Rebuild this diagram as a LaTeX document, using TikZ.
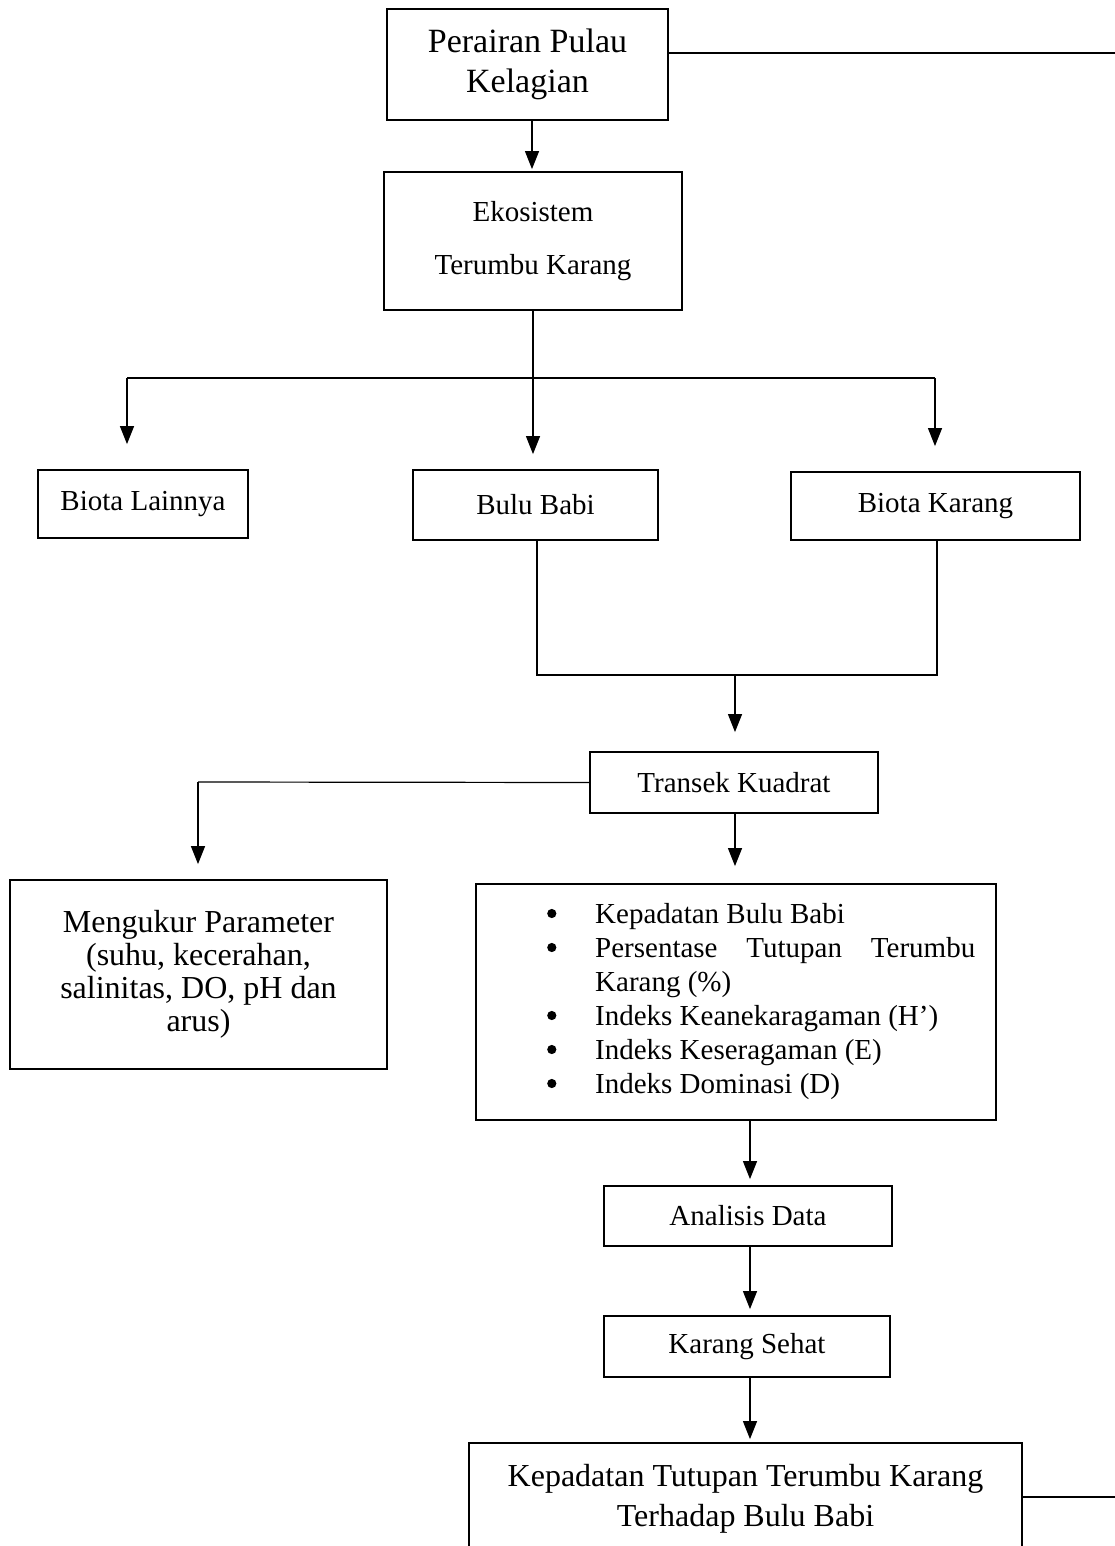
\documentclass[tikz,border=0pt]{standalone}
\usepackage{fontspec}
\setmainfont{Liberation Serif}
\usetikzlibrary{arrows.meta}
\newcommand{\mybul}{\tikz[baseline=-9.5pt,x=1pt,y=1pt]\fill (0,0) circle (4.6pt);}
\begin{document}
\begin{tikzpicture}[x=1pt,y=-1pt,
  box/.style={draw, line width=1.8pt, inner sep=0pt, align=center},
  con/.style={line width=1.2pt},
  arr/.style={con, -{Triangle[width=14pt,length=18pt]}},
  txt/.style={font=\fontsize{29}{33}\selectfont}
  ]
\clip (0,0) rectangle (1115,1546);
\fill[white] (0,0) rectangle (1115,1546);

% boxes
\node[box, minimum width=281pt, minimum height=111pt, font=\fontsize{34}{40}\selectfont] (A) at (527.5,64.5) {Perairan Pulau\\Kelagian};
\node[box, minimum width=298pt, minimum height=138pt, font=\fontsize{29}{53}\selectfont] (B) at (533,241) {Ekosistem\\Terumbu Karang};
\node[box, txt, minimum width=210pt, minimum height=68pt] (BL) at (143,504) {Biota Lainnya};
\node[box, txt, minimum width=245pt, minimum height=70pt] (BB) at (535.5,505) {Bulu Babi};
\node[box, txt, minimum width=289pt, minimum height=68pt] (BK) at (935.5,506) {Biota Karang};
\node[box, txt, minimum width=288pt, minimum height=61pt] (TK) at (734,782.5) {Transek Kuadrat};
\node[box, minimum width=377pt, minimum height=189pt, font=\fontsize{32}{33}\selectfont] (MP) at (198.5,974.5) {Mengukur Parameter\\(suhu, kecerahan,\\salinitas, DO, pH dan\\arus)};
\node[box, minimum width=520pt, minimum height=236pt] (IX) at (736,1002) {};
\node[anchor=north west, inner sep=0pt, font=\fontsize{29}{34}\selectfont] (IXT) at (547,899) {%
\begin{tabular}{@{}p{48pt}@{}p{380pt}@{}}
\mybul & Kepadatan Bulu Babi\\
\mybul & \makebox[380pt][s]{Persentase\hfill Tutupan\hfill Terumbu}\\
 & Karang (\%)\\
\mybul & Indeks Keanekaragaman (H’)\\
\mybul & Indeks Keseragaman (E)\\
\mybul & Indeks Dominasi (D)
\end{tabular}};
\node[box, txt, minimum width=288pt, minimum height=60pt] (AD) at (748,1216) {Analisis Data};
\node[box, txt, minimum width=286pt, minimum height=61pt] (KS) at (747,1346.5) {Karang Sehat};
\node[box, minimum width=553pt, minimum height=112pt, font=\fontsize{32}{40}\selectfont] (KT) at (745.5,1499) {Kepadatan Tutupan Terumbu Karang\\Terhadap Bulu Babi};

% helper coordinates
\coordinate (Aout) at (1115,53);
\coordinate (KTout) at (1115,1497);
\coordinate (h1) at (127,378);
\coordinate (h2) at (935,378);
\coordinate (j1) at (537,675);
\coordinate (j2) at (937,675);
\coordinate (jm) at (735,675);
\coordinate (tl) at (198,782);

% connectors
\draw[con] (A.east |- Aout) -- (Aout);
\draw[arr] (A.south -| 532,0) -- ([yshift=2pt]B.north -| 532,0);
\draw[con] (B.south) -- (B.south |- h1);
\draw[arr] (B.south |- h1) -- ([yshift=15pt]BB.north -| B.south);
\draw[con] (h1) -- (h2);
\draw[arr] (h1) -- ([yshift=25pt]BL.north -| h1);
\draw[arr] (h2) -- ([yshift=25pt]BK.north -| h2);
\draw[con] (BB.south -| j1) -- (j1) -- (j2) -- (BK.south -| j2);
\draw[arr] (jm) -- ([yshift=19pt]TK.north -| jm);
\draw[con] (TK.west) -- (tl);
\draw[arr] (tl) -- ([yshift=15pt]MP.north -| tl);
\draw[arr] (TK.south -| jm) -- ([yshift=17pt]IX.north -| jm);
\draw[arr] (IX.south -| 750,0) -- ([yshift=6pt]AD.north -| 750,0);
\draw[arr] (AD.south -| 750,0) -- ([yshift=6pt]KS.north -| 750,0);
\draw[arr] (KS.south -| 750,0) -- ([yshift=3pt]KT.north -| 750,0);
\draw[con] (KT.east |- KTout) -- (KTout);
\end{tikzpicture}
\end{document}
